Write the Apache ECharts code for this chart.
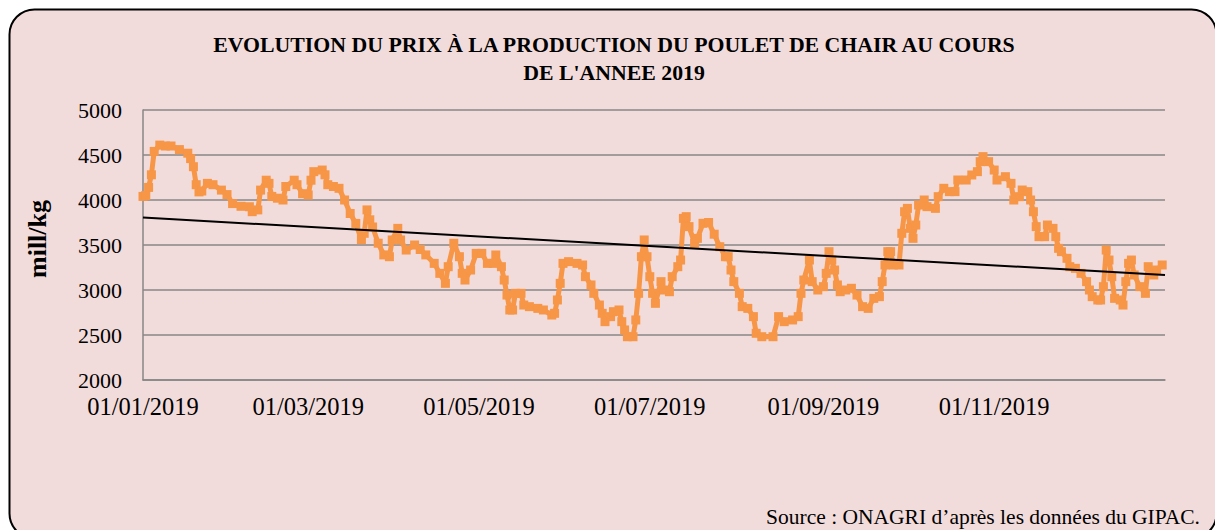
<!DOCTYPE html>
<html>
<head>
<meta charset="utf-8">
<script src="https://cdn.jsdelivr.net/npm/echarts@6/dist/echarts.min.js"></script>
<style>html,body{margin:0;padding:0;background:#fff;}#c{width:1215px;height:530px;}</style>
</head>
<body>
<div id="c"></div>
<script>
// Day of year (0 = 01/01/2019) of each reading
const days = [
  0,1,2,3,4,6,8,10,13,16,
  17,18,19,20,21,23,25,28,30,32,
  35,38,39,41,42,44,45,46,48,50,
  51,54,55,57,59,60,61,64,65,66,
  68,70,72,74,76,78,79,80,81,82,
  84,86,88,89,91,92,94,97,99,101,
  104,106,108,109,111,113,114,115,117,119,
  121,123,125,126,128,129,130,131,132,133,
  135,136,138,141,143,146,147,148,149,150,
  152,155,157,158,160,161,163,164,165,167,
  168,170,171,172,173,175,176,177,178,179,
  180,181,182,183,185,186,188,189,191,192,
  193,194,195,197,198,200,202,204,206,208,
  209,210,211,213,214,216,218,219,221,225,
  227,229,232,234,235,236,238,239,241,243,
  244,245,246,247,248,249,251,253,255,257,
  259,261,263,264,265,266,267,268,270,271,
  272,273,274,275,276,277,279,280,283,284,
  286,288,290,291,294,296,298,299,300,302,
  304,305,308,310,311,313,314,316,317,318,
  319,320,322,323,325,326,327,328,330,331,
  333,335,337,338,339,341,342,343,344,345,
  346,347,349,350,351,352,353,354,356,358,
  359,361,362,364
];
// Price (mill/kg)
const prices = [
  4040,4050,4140,4280,4540,4610,4600,4600,4560,4520,
  4460,4370,4170,4090,4100,4185,4170,4110,4060,3960,
  3930,3925,3870,3890,4110,4220,4185,4040,4020,4000,
  4150,4220,4170,4070,4056,4220,4315,4333,4280,4170,
  4150,4130,4000,3850,3740,3560,3630,3890,3780,3700,
  3520,3390,3370,3556,3685,3556,3444,3500,3450,3390,
  3296,3185,3074,3259,3519,3370,3185,3111,3222,3407,
  3407,3296,3296,3389,3259,3111,2944,2778,2778,2963,
  2963,2833,2815,2796,2778,2722,2741,2889,3074,3296,
  3315,3296,3278,3148,3056,2963,2833,2741,2648,2704,
  2759,2778,2648,2556,2481,2481,2667,2963,3370,3556,
  3370,3148,2963,2852,3093,3000,2981,3148,3259,3333,
  3796,3815,3704,3519,3574,3741,3750,3620,3481,3370,
  3370,3222,3093,2963,2815,2796,2704,2519,2481,2481,
  2704,2648,2667,2704,2963,3111,3333,3093,3000,3037,
  3185,3426,3333,3222,3056,2981,3000,3019,2944,2815,
  2796,2907,2926,3093,3278,3426,3426,3278,3278,3630,
  3870,3907,3685,3574,3722,3944,4000,3926,3907,4037,
  4130,4093,4093,4222,4222,4278,4315,4426,4482,4426,
  4333,4222,4259,4185,4000,4037,4111,4093,4000,3870,
  3704,3593,3593,3722,3685,3593,3463,3426,3352,3259,
  3241,3185,3093,3000,2926,2889,2889,3037,3444,3333,
  3148,2907,2889,2833,3093,3296,3333,3167,3037,2963,
  3259,3167,3222,3278
];
// Linear trend end points
const trendDays = [0, 365];
const trendValues = [3805, 3167];
// X tick positions (day of year) and labels
const tickDays = [0, 59, 120, 181, 243, 304];
const tickLabels = ['01/01/2019','01/03/2019','01/05/2019','01/07/2019','01/09/2019','01/11/2019'];

const titleLines = ["EVOLUTION DU PRIX À LA PRODUCTION DU POULET DE CHAIR AU COURS", "DE L'ANNEE 2019"];
const yName = 'mill/kg';
const sourceText = 'Source : ONAGRI d’après les données du GIPAC.';

const FONT = '"Liberation Serif", "DejaVu Serif", serif';
const chart = echarts.init(document.getElementById('c'), null, {renderer: 'svg'});
const series1 = days.map((d, i) => [d, prices[i]]);
const trend = trendDays.map((d, i) => [d, trendValues[i]]);

chart.setOption({
  animation: false,
  backgroundColor: '#ffffff',
  grid: {left: 143, right: 50, top: 110, bottom: 150, containLabel: false},
  xAxis: {
    type: 'value', min: 0, max: 365,
    splitLine: {show: false},
    axisLine: {show: true, lineStyle: {color: '#878787', width: 1.5}},
    axisTick: {show: false},
    axisLabel: {
      customValues: tickDays,
      formatter: (v) => tickLabels[tickDays.indexOf(v)] || '',
      color: '#000', fontFamily: FONT, fontSize: 24.5, margin: 14
    }
  },
  yAxis: {
    type: 'value', min: 2000, max: 5000, interval: 500,
    axisLine: {show: true, lineStyle: {color: '#878787', width: 1.5}},
    axisTick: {show: false},
    splitLine: {show: true, lineStyle: {color: '#878787', width: 1.5}},
    axisLabel: {color: '#000', fontFamily: FONT, fontSize: 22, margin: 21, formatter: (v) => String(v)}
  },
  series: [
    {
      type: 'line', data: series1,
      symbol: 'rect', symbolSize: 9,
      lineStyle: {color: '#F79646', width: 5},
      itemStyle: {color: '#F79646'},
      z: 3
    },
    {
      type: 'line', data: trend, symbol: 'none',
      lineStyle: {color: '#000', width: 2},
      z: 4
    }
  ],
  graphic: [
    {type: 'rect', z: -100, shape: {x: 9.5, y: 9.5, width: 1207, height: 529, r: 25},
     style: {fill: '#F2DCDB', stroke: '#000', lineWidth: 2}},
    {type: 'text', x: 614, y: 45, style: {text: titleLines[0], align: 'center', verticalAlign: 'middle', font: 'bold 21.8px ' + FONT, fill: '#000'}},
    {type: 'text', x: 614, y: 73, style: {text: titleLines[1], align: 'center', verticalAlign: 'middle', font: 'bold 21.8px ' + FONT, fill: '#000'}},
    {type: 'text', x: 37, y: 239, rotation: Math.PI / 2, style: {text: yName, align: 'center', verticalAlign: 'middle', font: 'bold 26px ' + FONT, fill: '#000'}},
    {type: 'text', x: 1200, y: 517, style: {text: sourceText, align: 'right', verticalAlign: 'middle', font: '21.5px ' + FONT, fill: '#000'}}
  ]
});
</script>
</body>
</html>
